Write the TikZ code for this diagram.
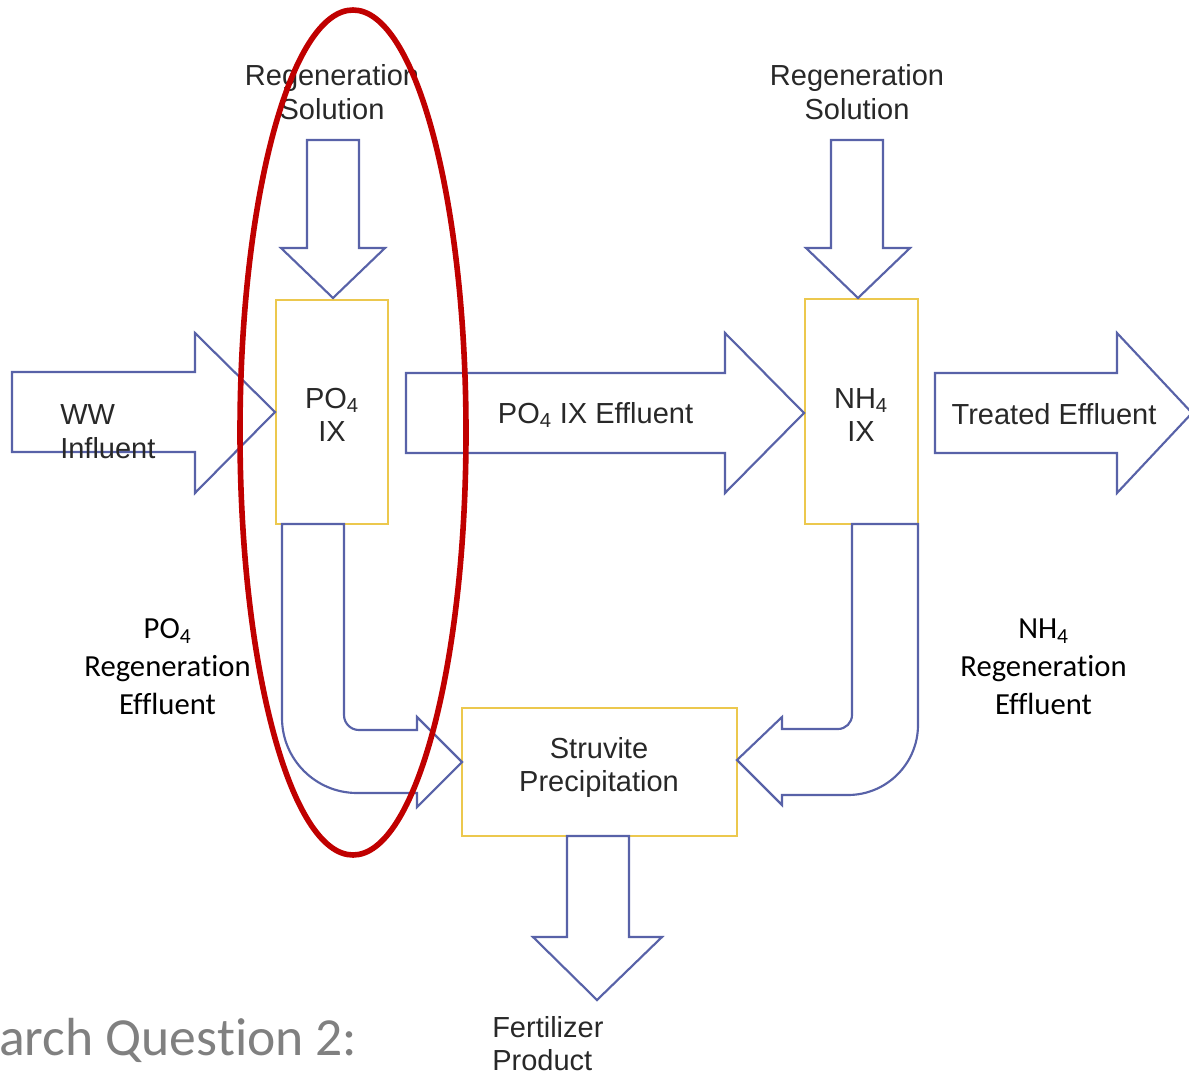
\documentclass[tikz,border=0pt]{standalone}
\usepackage{fontspec}
\setmainfont{Liberation Sans}
\newfontfamily\labelfont{Carlito}[Ligatures=NoCommon]
\definecolor{flowblue}{RGB}{88,98,168}
\definecolor{boxgold}{RGB}{236,200,78}
\definecolor{textgray}{RGB}{40,40,40}
\definecolor{ringred}{RGB}{192,0,0}
\definecolor{titlegray}{RGB}{128,128,128}
\begin{document}
\begin{tikzpicture}[x=0.75pt,y=-0.75pt,
  flow/.style={draw=flowblue,line width=1.6pt,fill=white,line join=miter},
  unit/.style={draw=boxgold,line width=1.8pt,fill=white,inner sep=0pt},
  diag/.style={font=\fontsize{21.75}{25.1}\selectfont,text=textgray,inner sep=0pt,align=center},
  side/.style={font=\labelfont\fontsize{23}{28.5}\selectfont,text=black,inner sep=0pt,align=center}]
\useasboundingbox (0,0) rectangle (1189,1074);

% treatment units
\node[unit,minimum width=84pt,minimum height=168pt] (po4) at (332,412) {};
\node[unit,minimum width=84.75pt,minimum height=168.75pt] (nh4) at (861.5,411.5) {};
\node[unit,minimum width=206.25pt,minimum height=96pt] (stru) at (599.5,772) {};

% regeneration solution feeds
\draw[flow] (307,140) -- (359,140) -- (359,248) -- (385,248) -- (333,298)
  -- (281,248) -- (307,248) -- cycle;
\draw[flow] (831,140) -- (883,140) -- (883,248) -- (910,248) -- (858,298)
  -- (806,248) -- (831,248) -- cycle;

% main wastewater line
\draw[flow] (12,372) -- (195,372) -- (195,333) -- (275,412) -- (195,493)
  -- (195,452) -- (12,452) -- cycle;
\draw[flow] (406,373) -- (725,373) -- (725,333) -- (804,413) -- (725,493)
  -- (725,453) -- (406,453) -- cycle;
\draw[flow] (935,373) -- (1117,373) -- (1117,333) -- (1192,413) -- (1117,493)
  -- (1117,453) -- (935,453) -- cycle;

% regeneration effluents to struvite precipitation
\draw[flow] (282,524) -- (282,718) .. controls (282,759.4) and (315.6,793) .. (357,793)
  -- (417,793) -- (417,807) -- (462,762) -- (417,717) -- (417,730) -- (359,730)
  .. controls (350.7,730) and (344,723.3) .. (344,715) -- (344,524) -- cycle;
\draw[flow] (918,524) -- (918,725) .. controls (918,763.6) and (886.6,795) .. (848,795)
  -- (782,795) -- (782,805) -- (737,760) -- (782,717) -- (782,729) -- (838,729)
  .. controls (845.7,729) and (852,722.7) .. (852,715) -- (852,524) -- cycle;

% product out
\draw[flow] (567,836) -- (629,836) -- (629,937) -- (662,937) -- (597,1000)
  -- (533,937) -- (567,937) -- cycle;

% labels
\node[diag,anchor=north] (regL) at (332,64.5) {Regeneration\\Solution};
\node[diag,anchor=north] (regR) at (857,64.5) {Regeneration\\Solution};
\node[diag,anchor=north west,align=left,font=\fontsize{21.75}{26}\selectfont]
  (ww) at (60,404) {WW\\Influent};
\node[diag,anchor=north] (po4t) at (332,388) {PO\textsubscript{4}\\IX};
\node[diag,anchor=north] (nh4t) at (861,388) {NH\textsubscript{4}\\IX};
\node[diag,anchor=base] (mid) at (595.5,423) {PO\textsubscript{4} IX Effluent};
\node[diag,anchor=base] (treated) at (1054,424) {Treated Effluent};
\node[diag,anchor=north] (strut) at (599,737) {Struvite\\Precipitation};
\node[diag,anchor=north west,align=left] (fert) at (492,1016) {Fertilizer\\Product};
\node[side,anchor=north] (po4reg) at (167.5,618.5) {PO\textsubscript{4}\\Regeneration\\Effluent};
\node[side,anchor=north] (nh4reg) at (1043.5,618.5) {NH\textsubscript{4}\\Regeneration\\Effluent};
\node[anchor=base west,inner sep=0pt,font=\labelfont\fontsize{40.2}{46}\selectfont,
  text=titlegray] (rq) at (-1,1055) {arch Question 2:};

% highlight ring
\draw[ringred,line width=4.2pt] (353,432.5) ellipse [x radius=113, y radius=422.5];
\end{tikzpicture}
\end{document}
